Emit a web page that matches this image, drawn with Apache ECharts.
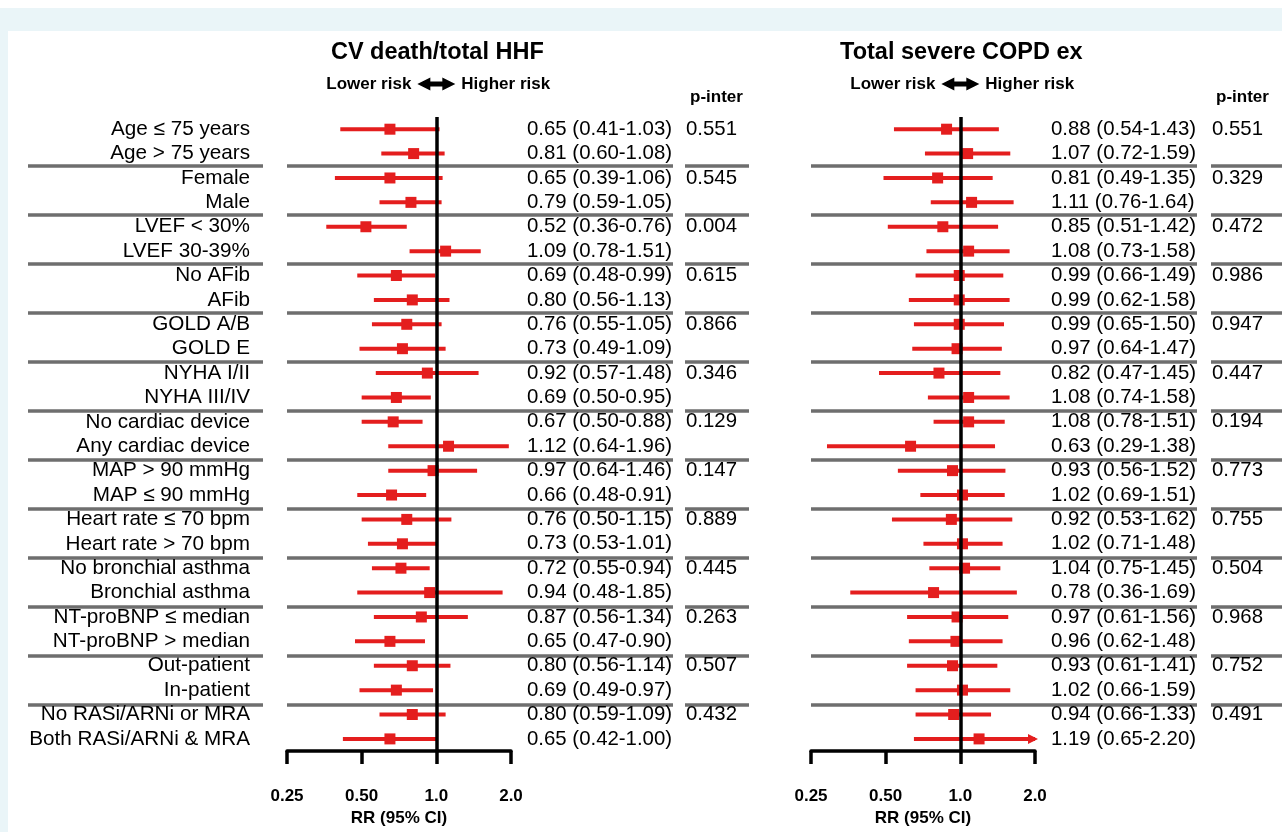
<!DOCTYPE html>
<html>
<head>
<meta charset="utf-8">
<title>Forest plot</title>
<script src="https://cdn.jsdelivr.net/npm/echarts@6/dist/echarts.min.js"></script>
<style>
  html, body { margin: 0; padding: 0; background: #fff; }
  #band { position: absolute; left: 0; top: 8px; width: 1282px; height: 824px; background: #eaf5f8; }
  #panel { position: absolute; left: 8px; top: 31px; width: 1274px; height: 801px; background: #fff; }
  #chart { position: absolute; left: 0; top: 0; width: 1282px; height: 832px; }
</style>
</head>
<body>
<div id="band"></div>
<div id="panel"></div>
<div id="chart"></div>
<script>
// subgroup rows, top to bottom
const categories = [
  'Age ≤ 75 years', 'Age > 75 years',
  'Female', 'Male',
  'LVEF < 30%', 'LVEF 30-39%',
  'No AFib', 'AFib',
  'GOLD A/B', 'GOLD E',
  'NYHA I/II', 'NYHA III/IV',
  'No cardiac device', 'Any cardiac device',
  'MAP > 90 mmHg', 'MAP ≤ 90 mmHg',
  'Heart rate ≤ 70 bpm', 'Heart rate > 70 bpm',
  'No bronchial asthma', 'Bronchial asthma',
  'NT-proBNP ≤ median', 'NT-proBNP > median',
  'Out-patient', 'In-patient',
  'No RASi/ARNi or MRA', 'Both RASi/ARNi & MRA'
];

// CV death / total HHF
const hhfRR = [0.65, 0.81, 0.65, 0.79, 0.52, 1.09, 0.69, 0.80, 0.76, 0.73, 0.92, 0.69, 0.67,
  1.12, 0.97, 0.66, 0.76, 0.73, 0.72, 0.94, 0.87, 0.65, 0.80, 0.69, 0.80, 0.65];
const hhfLo = [0.41, 0.60, 0.39, 0.59, 0.36, 0.78, 0.48, 0.56, 0.55, 0.49, 0.57, 0.50, 0.50,
  0.64, 0.64, 0.48, 0.50, 0.53, 0.55, 0.48, 0.56, 0.47, 0.56, 0.49, 0.59, 0.42];
const hhfHi = [1.03, 1.08, 1.06, 1.05, 0.76, 1.51, 0.99, 1.13, 1.05, 1.09, 1.48, 0.95, 0.88,
  1.96, 1.46, 0.91, 1.15, 1.01, 0.94, 1.85, 1.34, 0.90, 1.14, 0.97, 1.09, 1.00];
const hhfP = ['0.551', '0.545', '0.004', '0.615', '0.866', '0.346', '0.129',
  '0.147', '0.889', '0.445', '0.263', '0.507', '0.432'];

// Total severe COPD exacerbations
const copdRR = [0.88, 1.07, 0.81, 1.11, 0.85, 1.08, 0.99, 0.99, 0.99, 0.97, 0.82, 1.08, 1.08,
  0.63, 0.93, 1.02, 0.92, 1.02, 1.04, 0.78, 0.97, 0.96, 0.93, 1.02, 0.94, 1.19];
const copdLo = [0.54, 0.72, 0.49, 0.76, 0.51, 0.73, 0.66, 0.62, 0.65, 0.64, 0.47, 0.74, 0.78,
  0.29, 0.56, 0.69, 0.53, 0.71, 0.75, 0.36, 0.61, 0.62, 0.61, 0.66, 0.66, 0.65];
const copdHi = [1.43, 1.59, 1.35, 1.64, 1.42, 1.58, 1.49, 1.58, 1.50, 1.47, 1.45, 1.58, 1.51,
  1.38, 1.52, 1.51, 1.62, 1.48, 1.45, 1.69, 1.56, 1.48, 1.41, 1.59, 1.33, 2.20];
const copdP = ['0.551', '0.329', '0.472', '0.986', '0.947', '0.447', '0.194',
  '0.773', '0.755', '0.504', '0.968', '0.752', '0.491'];

const tickValues = [0.25, 0.5, 1, 2];
const tickLabels = ['0.25', '0.50', '1.0', '2.0'];

const FONT = '"Liberation Sans", Arial, Helvetica, sans-serif';
const RED = '#e41e1e';
const GREY = '#6e6e6e';
const AXIS_MIN = 0.25, AXIS_MAX = 2;
const ROW_H = 24.5;
const GRID_TOP = 117, GRID_H = ROW_H * categories.length;

const chart = echarts.init(document.getElementById('chart'));

const panels = [
  { title: 'CV death/total HHF', left: 287, rr: hhfRR, lo: hhfLo, hi: hhfHi, p: hhfP, showCats: true, pOffset: 175 },
  { title: 'Total severe COPD ex', left: 811, rr: copdRR, lo: copdLo, hi: copdHi, p: copdP, showCats: false, pOffset: 177 }
];
const PLOT_W = 224;

// separator segments (between subgroup pairs)
const sepSegs = [[28, 263], [287, 673], [685, 749], [811, 1197], [1211, 1282]];

const fmt = v => v.toFixed(2);

const grid = [], xAxis = [], yAxis = [], series = [], graphic = [];

panels.forEach((pn, k) => {
  grid.push({ left: pn.left, top: GRID_TOP, width: PLOT_W, height: GRID_H });
  xAxis.push({
    type: 'log', logBase: 2, min: AXIS_MIN, max: AXIS_MAX, gridIndex: k,
    splitLine: { show: false },
    axisLine: { show: true, lineStyle: { color: '#000', width: 3.5 } },
    axisTick: { show: true, length: 13, lineStyle: { color: '#000', width: 3.5 } },
    axisLabel: {
      margin: 37, color: '#000', fontFamily: FONT, fontSize: 17, fontWeight: 'bold',
      formatter: v => {
        let best = 0;
        tickValues.forEach((t, i) => { if (Math.abs(t - v) < Math.abs(tickValues[best] - v)) best = i; });
        return tickLabels[best];
      }
    },
    name: 'RR (95% CI)', nameLocation: 'middle', nameGap: 58,
    nameTextStyle: { color: '#000', fontFamily: FONT, fontSize: 17, fontWeight: 'bold' }
  });
  const est = categories.map((c, i) => `${fmt(pn.rr[i])} (${fmt(pn.lo[i])}-${fmt(pn.hi[i])})`);
  const pv = categories.map((c, i) => (i % 2 === 0 ? pn.p[i / 2] : ''));
  const base = {
    type: 'category', inverse: true, gridIndex: k,
    axisLine: { show: false }, axisTick: { show: false }, splitLine: { show: false }
  };
  yAxis.push(Object.assign({}, base, {
    data: categories,
    axisLabel: { show: pn.showCats, interval: 0, margin: 37, color: '#000', fontFamily: FONT, fontSize: 20.7 }
  }));
  yAxis.push(Object.assign({}, base, {
    data: est, position: 'right',
    axisLabel: { interval: 0, margin: 16, color: '#000', fontFamily: FONT, fontSize: 20.4 }
  }));
  yAxis.push(Object.assign({}, base, {
    data: pv, position: 'right', offset: pn.pOffset,
    axisLabel: { interval: 0, margin: 0, color: '#000', fontFamily: FONT, fontSize: 20.4 }
  }));

  const yIdx = k * 3;
  series.push({
    type: 'custom', xAxisIndex: k, yAxisIndex: yIdx, z: 2,
    encode: { x: [0, 1], y: 2 },
    data: categories.map((c, i) => [pn.lo[i], pn.hi[i], i]),
    renderItem: (params, api) => {
      const row = api.value(2);
      const hiRaw = api.value(1);
      const a = api.coord([api.value(0), row]);
      const b = api.coord([Math.min(hiRaw, AXIS_MAX), row]);
      const children = [{
        type: 'line', shape: { x1: a[0], y1: a[1], x2: b[0], y2: b[1] },
        style: { stroke: RED, lineWidth: 4 }
      }];
      if (hiRaw > AXIS_MAX) {
        children.push({
          type: 'polygon',
          shape: { points: [[b[0] + 3, b[1]], [b[0] - 7, b[1] - 5], [b[0] - 7, b[1] + 5]] },
          style: { fill: RED }
        });
      }
      return { type: 'group', children };
    }
  });
  series.push({
    type: 'scatter', xAxisIndex: k, yAxisIndex: yIdx, z: 3, data: [],
    markLine: {
      silent: true, symbol: ['none', 'none'], label: { show: false },
      lineStyle: { color: '#000', width: 3.5, type: 'solid' },
      data: [{ xAxis: 1 }]
    }
  });
  series.push({
    type: 'scatter', xAxisIndex: k, yAxisIndex: yIdx, z: 4,
    symbol: 'rect', symbolSize: 11, itemStyle: { color: RED, opacity: 1 },
    data: categories.map((c, i) => [pn.rr[i], i])
  });

  // centre of the headings sits on the RR = 1 line
  const cx = pn.left + PLOT_W * 2 / 3;
  graphic.push({
    type: 'text', x: cx + 1, y: 53,
    style: { text: pn.title, fontFamily: FONT, fontSize: 23.5, fontWeight: 'bold', fill: '#000', align: 'center', verticalAlign: 'middle' }
  });
  graphic.push({
    type: 'text', x: cx - 25, y: 84,
    style: { text: 'Lower risk', fontFamily: FONT, fontSize: 17, fontWeight: 'bold', fill: '#000', align: 'right', verticalAlign: 'middle' }
  });
  graphic.push({
    type: 'text', x: cx + 25, y: 84,
    style: { text: 'Higher risk', fontFamily: FONT, fontSize: 17, fontWeight: 'bold', fill: '#000', align: 'left', verticalAlign: 'middle' }
  });
  graphic.push({
    type: 'polygon', x: cx, y: 84,
    shape: { points: [[-19, 0], [-6, -6.5], [-6, -2.5], [6, -2.5], [6, -6.5], [19, 0], [6, 6.5], [6, 2.5], [-6, 2.5], [-6, 6.5]] },
    style: { fill: '#000' }
  });
  graphic.push({
    type: 'text', x: pn.left + PLOT_W + pn.pOffset + 4, y: 97,
    style: { text: 'p-inter', fontFamily: FONT, fontSize: 17, fontWeight: 'bold', fill: '#000', align: 'left', verticalAlign: 'middle' }
  });
});

// separator grids: cover all rows but the last pair, so the final boundary is the last separator
const sepCats = categories.slice(0, categories.length - 2);
sepSegs.forEach((seg) => {
  const gi = grid.length;
  grid.push({ left: seg[0], top: GRID_TOP, width: seg[1] - seg[0], height: ROW_H * sepCats.length });
  xAxis.push({ type: 'value', gridIndex: gi, show: false });
  yAxis.push({
    type: 'category', inverse: true, gridIndex: gi, data: sepCats,
    axisLine: { show: false }, axisTick: { show: false }, axisLabel: { show: false },
    splitLine: {
      show: true,
      interval: (idx) => idx > 0 && idx % 2 === 0,
      lineStyle: { color: GREY, width: 3.5 }
    }
  });
});

chart.setOption({
  animation: false,
  backgroundColor: 'transparent',
  grid, xAxis, yAxis, series, graphic
});
</script>
</body>
</html>
